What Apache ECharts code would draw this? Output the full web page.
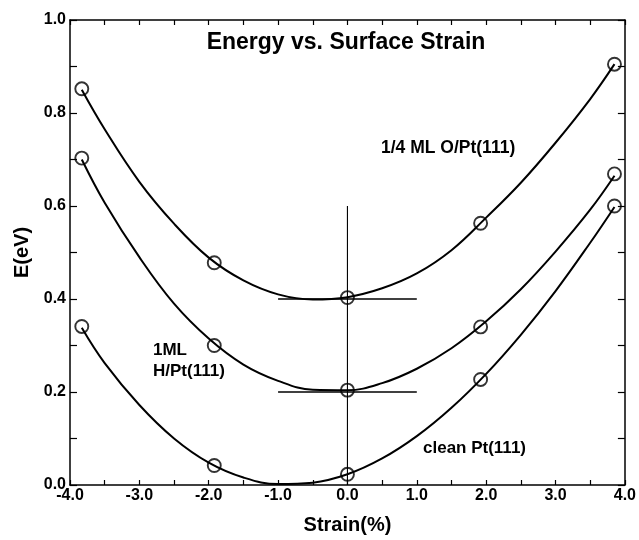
<!DOCTYPE html>
<html>
<head>
<meta charset="UTF-8">
<title>Energy vs. Surface Strain</title>
<script src="https://cdn.jsdelivr.net/npm/echarts@6/dist/echarts.min.js"></script>
<style>html,body{margin:0;padding:0;background:#fff;}</style>
</head>
<body>
<div id="main" style="width:639px;height:540px;"></div>
<script type="text/javascript">
// computed points (the circles)
var strain = [-3.83, -1.92, 0, 1.92, 3.85];
var eO = [0.852, 0.478, 0.403, 0.563, 0.905];
var eH = [0.703, 0.300, 0.204, 0.340, 0.669];
var eClean = [0.341, 0.042, 0.023, 0.227, 0.600];

// fitted curves
var fitStrain = [-3.83, -3.5, -3.0, -2.5, -2.0, -1.5, -1.0, -0.5, 0, 0.5, 1.0, 1.5, 2.0, 2.5, 3.0, 3.5, 3.85];
var fitO = [0.850, 0.765, 0.652, 0.562, 0.489, 0.440, 0.410, 0.399, 0.404, 0.423, 0.455, 0.505, 0.575, 0.650, 0.736, 0.830, 0.905];
var fitH = [0.700, 0.607, 0.490, 0.390, 0.315, 0.259, 0.224, 0.205, 0.204, 0.219, 0.250, 0.294, 0.352, 0.421, 0.502, 0.592, 0.665];
var fitClean = [0.338, 0.262, 0.172, 0.100, 0.048, 0.016, 0.002, 0.005, 0.023, 0.057, 0.105, 0.166, 0.239, 0.323, 0.417, 0.521, 0.598];

// reference cross at zero strain
var crossX = [-1.0, 1.0];
var crossLevels = [0.4, 0.2];
var vertY = [0, 0.6];

function pairs(xs, ys) {
    return xs.map(function (x, i) { return [x, ys[i]]; });
}

var chart = echarts.init(document.getElementById('main'));
var FONT = 'Liberation Sans, Arial, sans-serif';
var black = '#000';

function curve(ys) {
    return {
        type: 'line', data: pairs(fitStrain, ys), smooth: 0.4,
        showSymbol: false, lineStyle: {color: black, width: 2}, silent: true, z: 2
    };
}
function points(ys) {
    return {
        type: 'scatter', data: pairs(strain, ys), symbol: 'circle', symbolSize: 13,
        itemStyle: {color: 'rgba(0,0,0,0)', borderColor: black, borderWidth: 1.9},
        silent: true, z: 5
    };
}
function seg(data, w) {
    return {
        type: 'line', data: data, showSymbol: false,
        lineStyle: {color: black, width: w}, silent: true, z: 3
    };
}

var boxAxis = {
    axisLine: {onZero: false, lineStyle: {color: black, width: 1.5}},
    splitLine: {show: false}
};

var option = {
    animation: false,
    backgroundColor: '#fff',
    grid: {left: 70, right: 14, top: 20, bottom: 50},
    xAxis: [
        Object.assign({}, boxAxis, {
            type: 'value', min: -4, max: 4, interval: 0.5, position: 'bottom',
            axisTick: {inside: true, length: 5, lineStyle: {color: black, width: 1.2}},
            axisLabel: {
                color: black, fontFamily: FONT, fontWeight: 'bold', fontSize: 16, margin: 3,
                formatter: function (v) { return Number.isInteger(v) ? v.toFixed(1) : ''; }
            },
            name: 'Strain(%)', nameLocation: 'middle', nameGap: 30,
            nameTextStyle: {color: black, fontFamily: FONT, fontWeight: 'bold', fontSize: 20}
        }),
        Object.assign({}, boxAxis, {
            type: 'value', min: -4, max: 4, interval: 0.5, position: 'top',
            axisTick: {inside: true, length: 5, lineStyle: {color: black, width: 1.2}},
            axisLabel: {show: false}
        })
    ],
    yAxis: [
        Object.assign({}, boxAxis, {
            type: 'value', min: 0, max: 1, interval: 0.1, position: 'left',
            axisTick: {inside: true, length: 7, lineStyle: {color: black, width: 1.2}},
            axisLabel: {
                color: black, fontFamily: FONT, fontWeight: 'bold', fontSize: 16, margin: 4,
                formatter: function (v) { return Math.round(v * 10) % 2 === 0 ? v.toFixed(1) : ''; }
            },
            name: 'E(eV)', nameLocation: 'middle', nameRotate: 90, nameGap: 36,
            nameTextStyle: {color: black, fontFamily: FONT, fontWeight: 'bold', fontSize: 20}
        }),
        Object.assign({}, boxAxis, {
            type: 'value', min: 0, max: 1, interval: 0.1, position: 'right',
            axisTick: {inside: true, length: 7, lineStyle: {color: black, width: 1.2}},
            axisLabel: {show: false}
        })
    ],
    graphic: [
        {type: 'text', x: 346, y: 43, style: {text: 'Energy vs. Surface Strain', font: 'bold 23px ' + FONT,
            fill: black, textAlign: 'center', align: 'center', textVerticalAlign: 'middle', verticalAlign: 'middle'}},
        {type: 'text', x: 381, y: 148, style: {text: '1/4 ML O/Pt(111)', font: 'bold 17.5px ' + FONT,
            fill: black, textVerticalAlign: 'middle', verticalAlign: 'middle'}},
        {type: 'text', x: 153, y: 350, style: {text: '1ML', font: 'bold 17px ' + FONT,
            fill: black, textVerticalAlign: 'middle', verticalAlign: 'middle'}},
        {type: 'text', x: 153, y: 371, style: {text: 'H/Pt(111)', font: 'bold 17px ' + FONT,
            fill: black, textVerticalAlign: 'middle', verticalAlign: 'middle'}},
        {type: 'text', x: 423, y: 448, style: {text: 'clean Pt(111)', font: 'bold 17px ' + FONT,
            fill: black, textVerticalAlign: 'middle', verticalAlign: 'middle'}}
    ],
    series: [
        curve(fitO),
        curve(fitH),
        curve(fitClean),
        seg([[crossX[0], crossLevels[0]], [crossX[1], crossLevels[0]]], 1.5),
        seg([[crossX[0], crossLevels[1]], [crossX[1], crossLevels[1]]], 1.5),
        seg([[0, vertY[0]], [0, vertY[1]]], 1.1),
        points(eO),
        points(eH),
        points(eClean)
    ]
};

chart.setOption(option);
</script>
</body>
</html>
